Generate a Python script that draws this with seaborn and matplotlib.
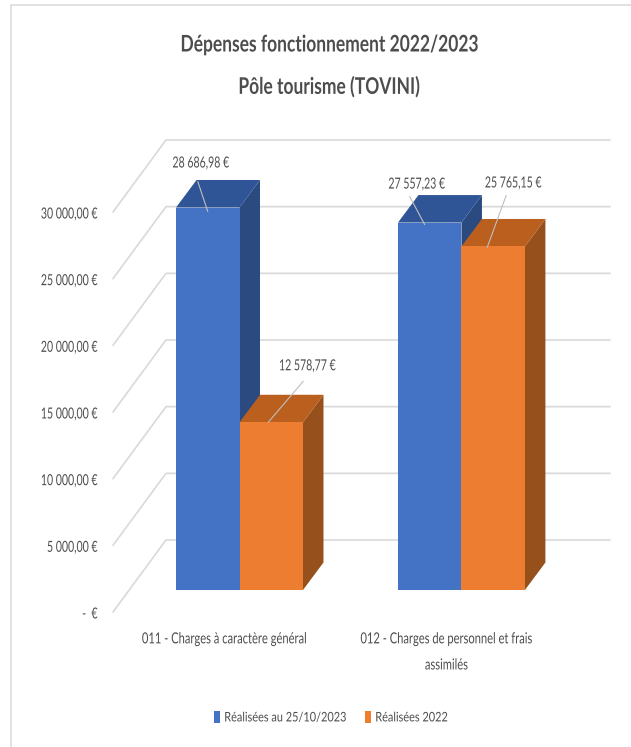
import matplotlib
matplotlib.use('Agg')
import matplotlib.pyplot as plt
import matplotlib.transforms as mtrans
from matplotlib.lines import Line2D
from matplotlib.patches import Polygon
from matplotlib.patheffects import AbstractPathEffect
import pandas as pd
import seaborn as sns

# Values
categories = ['011 - Charges à caractère général', '012 - Charges de personnel et frais\nassimilés']
series_names = ['Réalisées au 25/10/2023', 'Réalisées 2022']
realisees_2023 = [28686.98, 27557.23]
realisees_2022 = [12578.77, 25765.15]
value_labels = ['28 686,98 €', '27 557,23 €', '12 578,77 €', '25 765,15 €']
y_ticks = [0, 5000, 10000, 15000, 20000, 25000, 30000]
y_tick_labels = ['-  €', '5 000,00 €', '10 000,00 €', '15 000,00 €', '20 000,00 €', '25 000,00 €', '30 000,00 €']

W, H = 631, 747
FONT = ['Lato', 'DejaVu Sans']
TEXT = '#4d4d4d'
FRONT = ['#4472C4', '#ED7D31']
TOP = ['#2F5597', '#BA5F1E']
SIDE = ['#2A4A80', '#95501B']
GRID = '#d9d9d9'
SMALL = 11
TITLE = 16.5


class Squeeze(AbstractPathEffect):
    """Narrows a text horizontally, the reference font is a condensed one"""

    def __init__(self, k, anchor='center'):
        super().__init__()
        self.k = k
        self.anchor = anchor

    def draw_path(self, renderer, gc, tpath, affine, rgbFace=None):
        box = tpath.get_extents(affine)
        cx = {'left': box.x0, 'center': (box.x0 + box.x1) / 2, 'right': box.x1}[self.anchor]
        squeezed = affine + mtrans.Affine2D().translate(-cx, 0).scale(self.k, 1).translate(cx, 0)
        renderer.draw_path(gc, tpath, squeezed, rgbFace)


sns.set_theme(style='white')
plt.rcParams['font.family'] = FONT

df = pd.DataFrame({
    'categorie': categories * 2,
    'serie': [series_names[0]] * 2 + [series_names[1]] * 2,
    'valeur': realisees_2023 + realisees_2022,
})

fig = plt.figure(figsize=(W / 100, H / 100), dpi=100, facecolor='white')
# axes box in pixels: left 113, right 550, y=0 at 590, y=30000 at 190
ax = fig.add_axes([113 / W, 1 - 590 / H, 437 / W, 400 / H])
ax.patch.set_alpha(0)

sns.barplot(data=df, x='categorie', y='valeur', hue='serie', palette=FRONT,
            width=0.572, gap=0, saturation=1, linewidth=0, ax=ax, zorder=3)

ax.set_xlim(-0.57, 1.399)
ax.set_ylim(0, 30000)
ax.set_xlabel('')
ax.set_ylabel('')
sns.despine(ax=ax, left=True, bottom=True)

# pixel helpers for the fake 3D
px_x = (ax.get_xlim()[1] - ax.get_xlim()[0]) / 437
px_y = 30000 / 400
x0 = ax.get_xlim()[0]

# walls: slanted floor lines + back wall lines
for v in y_ticks:
    xs = [x0, x0 + 53 * px_x, x0 + 497 * px_x]
    ys = [v - 22 * px_y, v + 50 * px_y, v + 50 * px_y]
    ax.add_line(Line2D(xs, ys, color=GRID, lw=1.2, clip_on=False, zorder=1))

# depth faces of each bar, built from the bars seaborn drew
depth_x, depth_y = 20.5 * px_x, 27.5 * px_y
bars = [p for p in ax.patches if p.get_height() > 0]
for i, bar in enumerate(bars):
    s = i // 2
    l, r, v = bar.get_x(), bar.get_x() + bar.get_width(), bar.get_height()
    z = 2.5 if s == 0 else 2.6
    ax.add_patch(Polygon([(r, 0), (r + depth_x, depth_y), (r + depth_x, v + depth_y), (r, v)],
                         color=SIDE[s], lw=0, clip_on=False, zorder=z))
    ax.add_patch(Polygon([(l, v), (l + depth_x, v + depth_y), (r + depth_x, v + depth_y), (r, v)],
                         color=TOP[s], lw=0, clip_on=False, zorder=z))
    bar.set_zorder(z + 0.05)

# data labels with leader lines (offsets in pixels from the front top centre)
label_pos = [(-7, 44), (-13, 38), (36, 56), (20, 63)]
leader_start = [(0, -4), (-5, -2), (-3, 0), (-6, -1)]
leader_end = [(-10, 30), (-15, 28), (35, 41), (19, 52)]
for i, bar in enumerate(bars):
    xy = (bar.get_x() + bar.get_width() / 2, bar.get_height())
    ax.annotate(value_labels[i], xy=xy, xytext=label_pos[i], textcoords='offset pixels',
                ha='center', va='center', fontsize=SMALL, color=TEXT, zorder=6, annotation_clip=False,
                path_effects=[Squeeze(0.69)])
    ax.annotate('', xy=(xy[0] + leader_start[i][0] * px_x, xy[1] + leader_start[i][1] * px_y),
                xytext=leader_end[i], textcoords='offset pixels',
                arrowprops=dict(arrowstyle='-', color='#bfbfbf', lw=0.8, shrinkA=0, shrinkB=0),
                zorder=6, annotation_clip=False)

# y tick labels sit on the front end of the floor lines
ax.set_yticks(y_ticks)
ax.set_yticklabels(y_tick_labels, fontsize=SMALL, color=TEXT)
ax.tick_params(axis='y', length=0, pad=11)
for lab in ax.get_yticklabels():
    lab.set_transform(lab.get_transform() + mtrans.Affine2D().translate(0, -23))
    lab.set_path_effects([Squeeze(0.69, 'right')])

ax.set_xticks([0, 1])
ax.set_xticklabels(categories, fontsize=SMALL, color=TEXT, linespacing=2.1, va='top')
ax.tick_params(axis='x', length=0, pad=30.5)
for lab in ax.get_xticklabels():
    lab.set_transform(lab.get_transform() + mtrans.Affine2D().translate(-15, 0))
    lab.set_path_effects([Squeeze(0.73)])

# legend, handle of the first entry starts at x=214
handles, labels = ax.get_legend_handles_labels()
leg = ax.legend(handles, labels, loc='center left', bbox_to_anchor=(214 / W, 1 - 717 / H),
                bbox_transform=fig.transFigure, ncol=2, frameon=False, fontsize=9.5,
                labelcolor=TEXT, borderpad=0, borderaxespad=0, handlelength=0.46, handleheight=1.1,
                handletextpad=0.3, columnspacing=-0.53)
for t in leg.get_texts():
    t.set_path_effects([Squeeze(0.83, 'left')])

# title
for line, ypos in [('Dépenses fonctionnement 2022/2023', 45), ('Pôle tourisme (TOVINI)', 87)]:
    fig.text(329 / W, 1 - ypos / H, line, ha='center', va='center', fontsize=TITLE,
             fontweight='bold', color=TEXT, path_effects=[Squeeze(0.76)])

# pale frame of the screenshot
fig.add_artist(Line2D([11 / W, 11 / W, 1], [0, 1 - 5 / H, 1 - 5 / H], color='#dcdcdc', lw=1.2))

fig.savefig('out.png', dpi=100)
